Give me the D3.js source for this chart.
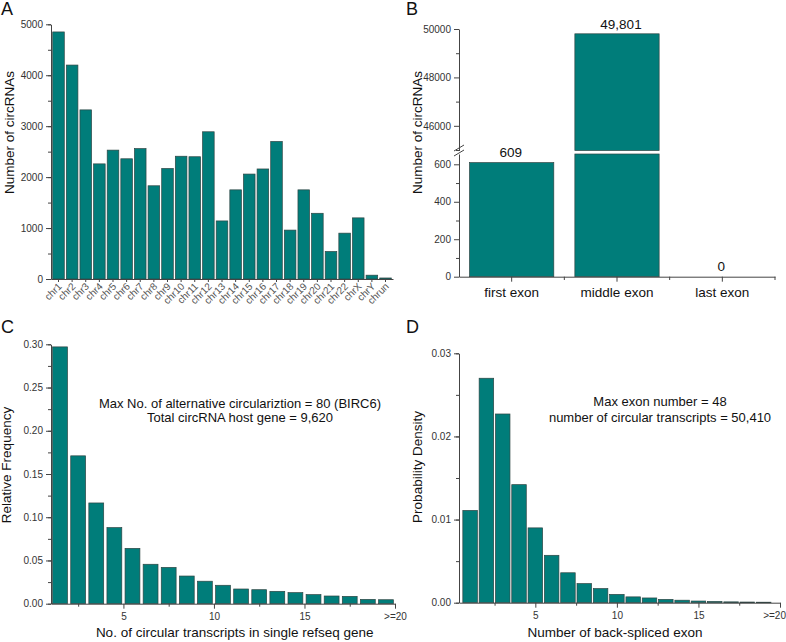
<!DOCTYPE html>
<html><head><meta charset="utf-8">
<script src="https://cdn.jsdelivr.net/npm/d3@7"></script>
<style>
html,body{margin:0;padding:0;background:#fff;}
text{font-family:"Liberation Sans",Arial,Helvetica,sans-serif;}
</style></head>
<body>
<svg id="chart" width="786" height="642"></svg>
<script>
// ---------- DATA ----------
const chrCategories = ["chr1","chr2","chr3","chr4","chr5","chr6","chr7","chr8","chr9","chr10","chr11","chr12","chr13","chr14","chr15","chr16","chr17","chr18","chr19","chr20","chr21","chr22","chrX","chrY","chrun"];
const chrCounts = [4850,4200,3320,2260,2530,2360,2560,1830,2170,2410,2400,2890,1140,1750,2060,2160,2700,960,1750,1290,540,900,1200,75,20];
const chrTicks = [0,1000,2000,3000,4000,5000];

const exonCategories = ["first exon","middle exon","last exon"];
const exonCounts = [609,49801,0];
const exonValueLabels = ["609","49,801","0"];
const exonTicksLow = [0,200,400,600];
const exonTicksHigh = [46000,48000,50000];

const altBins = [1,2,3,4,5,6,7,8,9,10,11,12,13,14,15,16,17,18,19];
const altFreq = [0.297,0.171,0.1165,0.088,0.064,0.0456,0.042,0.032,0.026,0.0213,0.017,0.0162,0.0143,0.0128,0.0105,0.0089,0.0085,0.005,0.0046];
const altYTicks = [0,0.05,0.10,0.15,0.20,0.25,0.30];
const altXTicks = [5,10,15,20];
const altXTickLabels = ["5","10","15",">=20"];

const exonNumBins = [1,2,3,4,5,6,7,8,9,10,11,12,13,14,15,16,17,18,19];
const exonDensity = [0.0111,0.0270,0.0227,0.0142,0.0090,0.0057,0.0036,0.0023,0.0017,0.0010,0.0007,0.00057,0.0004,0.0003,0.0002,0.00015,0.0001,0.00008,0.00006];
const densYTicks = [0,0.01,0.02,0.03];
const densXTicks = [5,10,15,20];
const densXTickLabels = ["5","10","15",">=20"];

const annotC = ["Max No. of alternative circulariztion = 80 (BIRC6)","Total circRNA host gene = 9,620"];
const annotD = ["Max exon number = 48","number of circular transcripts = 50,410"];

// ---------- STYLE ----------
const BAR = "#007d7a", BAR_STROKE = "#2e4543", AX = "#444", TICKTXT = "#333", LABEL = "#111";
const svg = d3.select("#chart");

function styleAxis(g){
  g.select(".domain").attr("stroke",AX).attr("stroke-width",1);
  g.selectAll(".tick line").attr("stroke",AX);
  g.selectAll(".tick text").attr("fill",TICKTXT).attr("font-size","10px")
   .attr("font-family","'Liberation Sans',Arial,sans-serif");
}
function minorAxis(g){
  g.select(".domain").remove();
  g.selectAll(".tick line").attr("stroke",AX);
  g.selectAll(".tick text").remove();
}
function letter(t,x,y){
  svg.append("text").attr("x",x).attr("y",y).attr("font-size","18px").attr("fill","#111").text(t);
}
function ylabel(t,x,y){
  svg.append("text").attr("transform",`translate(${x},${y}) rotate(-90)`).attr("text-anchor","middle")
    .attr("font-size","13.5px").attr("fill",LABEL).text(t);
}
function xlabel(t,x,y){
  svg.append("text").attr("x",x).attr("y",y).attr("text-anchor","middle")
    .attr("font-size","13.5px").attr("fill",LABEL).text(t);
}

// ---------- PANEL A ----------
{
  const x = d3.scaleBand().domain(chrCategories).range([51,393]).paddingInner(0.15).paddingOuter(0.125);
  const y = d3.scaleLinear().domain([0,5000]).range([279,24.3]);
  letter("A",1,15);
  svg.append("g").selectAll("rect").data(chrCounts).join("rect")
    .attr("x",(d,i)=>x(chrCategories[i])).attr("width",x.bandwidth())
    .attr("y",d=>y(d)).attr("height",d=>y(0)-y(d))
    .attr("fill",BAR).attr("stroke",BAR_STROKE).attr("stroke-width",0.7);
  svg.append("g").attr("transform","translate(51,0)")
    .call(d3.axisLeft(y).tickValues(d3.range(0,5001,500)).tickSize(3).tickFormat(""))
    .call(minorAxis);
  svg.append("g").attr("transform","translate(51,0)")
    .call(d3.axisLeft(y).tickValues(chrTicks).tickSize(5).tickPadding(3).tickSizeOuter(0).tickFormat(d3.format("d")))
    .call(styleAxis);
  const gx = svg.append("g").attr("transform","translate(0,279)")
    .call(d3.axisBottom(x).tickSize(3).tickSizeOuter(0)).call(styleAxis);
  gx.selectAll(".tick text").attr("font-size","10px").attr("fill","#555")
    .attr("text-anchor","end").attr("dx","0").attr("dy","0").attr("y",0)
    .attr("transform","translate(4,8) rotate(-45)");
  ylabel("Number of circRNAs",13.5,132.5);
}

// ---------- PANEL B ----------
{
  const x = d3.scaleBand().domain(exonCategories).range([459,775]).paddingInner(0.2).paddingOuter(0.1);
  const yLo = d3.scaleLinear().domain([0,655]).range([276.7,154]);
  const yHi = d3.scaleLinear().domain([44980,50000]).range([150.5,29]);
  letter("B",406,15);
  const g = svg.append("g");
  exonCounts.forEach((v,i)=>{
    const bx = x(exonCategories[i]);
    if(v>0){
      const lowTop = Math.min(v,655);
      g.append("rect").attr("x",bx).attr("width",x.bandwidth())
        .attr("y",yLo(lowTop)).attr("height",yLo(0)-yLo(lowTop))
        .attr("fill",BAR).attr("stroke",BAR_STROKE).attr("stroke-width",0.7);
      if(v>655){
        g.append("rect").attr("x",bx).attr("width",x.bandwidth())
          .attr("y",yHi(v)).attr("height",yHi(44980)-yHi(v))
          .attr("fill",BAR).attr("stroke",BAR_STROKE).attr("stroke-width",0.7);
      }
    }
    const ty = v>655 ? yHi(v)-5 : yLo(Math.min(v,655))-6;
    const tx = x(exonCategories[i]) + x.bandwidth()/2 + (v>655?4:-1);
    svg.append("text").attr("x",tx).attr("y",ty).attr("text-anchor","middle")
      .attr("font-size","13.5px").attr("fill","#111").text(exonValueLabels[i]);
  });
  svg.append("g").attr("transform","translate(459,0)")
    .call(d3.axisLeft(yLo).tickValues([100,300,500]).tickSize(3).tickFormat("")).call(minorAxis);
  svg.append("g").attr("transform","translate(459,0)")
    .call(d3.axisLeft(yLo).tickValues(exonTicksLow).tickSize(5).tickPadding(3).tickSizeOuter(0)).call(styleAxis);
  svg.append("g").attr("transform","translate(459,0)")
    .call(d3.axisLeft(yHi).tickValues([45000,47000,49000]).tickSize(3).tickFormat("")).call(minorAxis);
  svg.append("g").attr("transform","translate(459,0)")
    .call(d3.axisLeft(yHi).tickValues(exonTicksHigh).tickSize(5).tickPadding(3).tickSizeOuter(0).tickFormat(d3.format("d"))).call(styleAxis);
  svg.append("line").attr("x1",454).attr("y1",151).attr("x2",464).attr("y2",145).attr("stroke",AX);
  svg.append("line").attr("x1",454).attr("y1",156).attr("x2",464).attr("y2",150).attr("stroke",AX);
  const gx = svg.append("g").attr("transform","translate(0,276.7)")
    .call(d3.axisBottom(x).tickSize(5).tickSizeOuter(0).tickPadding(6)).call(styleAxis);
  gx.selectAll(".tick text").attr("font-size","13.5px").attr("fill","#111");
  const bounds = exonCategories.map(c=>x(c)+x.bandwidth()+x.step()*x.paddingInner()/2);
  svg.append("g").selectAll("line").data(bounds).join("line")
    .attr("x1",d=>d).attr("x2",d=>d).attr("y1",276.7).attr("y2",280).attr("stroke",AX);
  ylabel("Number of circRNAs",421.5,132.5);
}

// ---------- PANEL C ----------
{
  const x = d3.scaleLinear().domain([1,20]).range([51,395]);
  const y = d3.scaleLinear().domain([0,0.30]).range([603.7,344.3]);
  letter("C",1,333);
  const bw = 0.82;
  svg.append("g").selectAll("rect").data(altFreq).join("rect")
    .attr("x",(d,i)=>x(altBins[i]+0.5-bw/2)).attr("width",x(1+bw)-x(1))
    .attr("y",d=>y(d)).attr("height",d=>y(0)-y(d))
    .attr("fill",BAR).attr("stroke",BAR_STROKE).attr("stroke-width",0.7);
  svg.append("g").attr("transform","translate(51,0)")
    .call(d3.axisLeft(y).tickValues(d3.range(0,0.3001,0.025)).tickSize(3).tickFormat("")).call(minorAxis);
  svg.append("g").attr("transform","translate(51,0)")
    .call(d3.axisLeft(y).tickValues(altYTicks).tickSize(5).tickPadding(3).tickSizeOuter(0).tickFormat(d3.format(".2f"))).call(styleAxis);
  svg.append("g").attr("transform","translate(0,603.7)")
    .call(d3.axisBottom(x).tickValues([2.5,7.5,12.5,17.5]).tickSize(3).tickFormat("")).call(minorAxis);
  svg.append("g").attr("transform","translate(0,603.7)")
    .call(d3.axisBottom(x).tickValues(altXTicks).tickSize(5).tickPadding(4).tickSizeOuter(0)
      .tickFormat((d,i)=>altXTickLabels[i])).call(styleAxis);
  ylabel("Relative Frequency",10.5,465);
  xlabel("No. of circular transcripts in single refseq gene",234.7,637);
  annotC.forEach((t,i)=>svg.append("text").attr("x",240).attr("y",408+i*14)
    .attr("text-anchor","middle").attr("font-size","13px").attr("fill","#111").text(t));
}

// ---------- PANEL D ----------
{
  const x = d3.scaleLinear().domain([0.32,20]).range([459,780]);
  const y = d3.scaleLinear().domain([0,0.03]).range([602.7,353.3]);
  letter("D",406,333);
  const bw = 0.89;
  svg.append("g").selectAll("rect").data(exonDensity).join("rect")
    .attr("x",(d,i)=>x(exonNumBins[i]-bw/2)).attr("width",x(1+bw)-x(1))
    .attr("y",d=>y(d)).attr("height",d=>y(0)-y(d))
    .attr("fill",BAR).attr("stroke",BAR_STROKE).attr("stroke-width",0.7);
  svg.append("g").attr("transform","translate(459,0)")
    .call(d3.axisLeft(y).tickValues(d3.range(0,0.03001,0.005)).tickSize(3).tickFormat("")).call(minorAxis);
  svg.append("g").attr("transform","translate(459,0)")
    .call(d3.axisLeft(y).tickValues(densYTicks).tickSize(5).tickPadding(3).tickSizeOuter(0).tickFormat(d3.format(".2f"))).call(styleAxis);
  svg.append("g").attr("transform","translate(0,602.7)")
    .call(d3.axisBottom(x).tickValues([2.5,7.5,12.5,17.5]).tickSize(3).tickFormat("")).call(minorAxis);
  const gx = svg.append("g").attr("transform","translate(0,602.7)")
    .call(d3.axisBottom(x).tickValues(densXTicks).tickSize(5).tickPadding(4).tickSizeOuter(0)
      .tickFormat((d,i)=>densXTickLabels[i])).call(styleAxis);
  gx.selectAll(".tick text").filter(d=>d===20).attr("text-anchor","end").attr("dx","5.5");
  ylabel("Probability Density",422.4,467);
  xlabel("Number of back-spliced exon",615,637);
  annotD.forEach((t,i)=>svg.append("text").attr("x",660).attr("y",406+i*15.5)
    .attr("text-anchor","middle").attr("font-size","13px").attr("fill","#111").text(t));
}
</script>
</body></html>
